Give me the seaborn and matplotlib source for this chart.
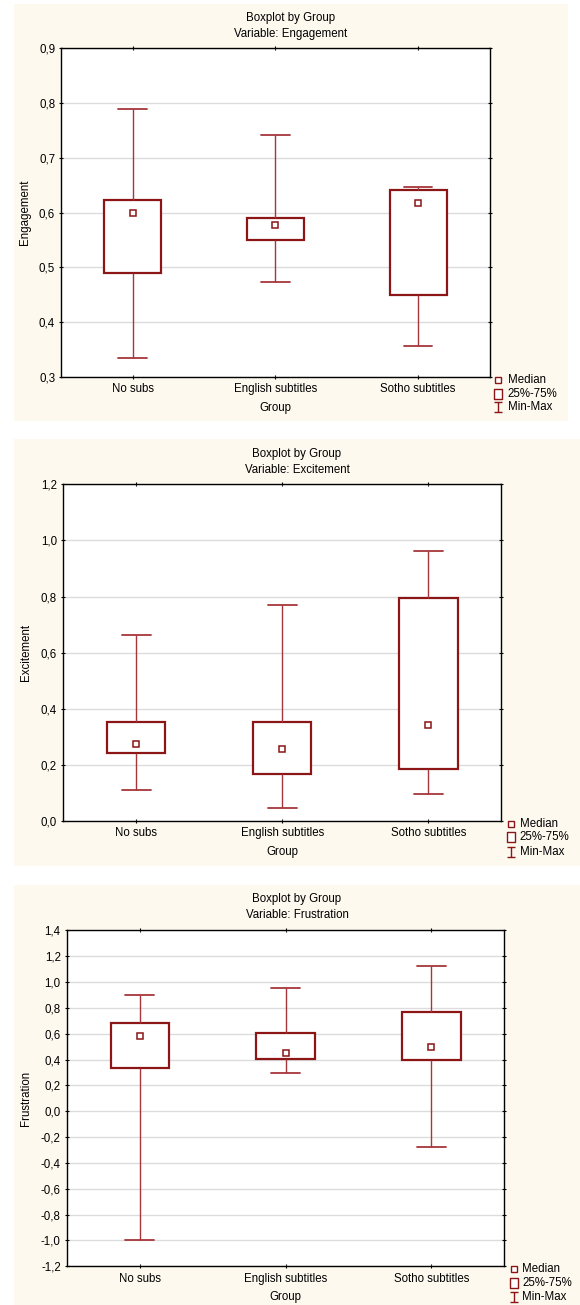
import numpy as np
import pandas as pd
import matplotlib
matplotlib.use("Agg")
import matplotlib.pyplot as plt
import seaborn as sns
from matplotlib.lines import Line2D
from matplotlib.patches import Rectangle
from matplotlib.path import Path
from matplotlib.ticker import FuncFormatter, MultipleLocator

sns.set_theme(style="white")
plt.rcParams['font.family'] = ['Liberation Sans', 'DejaVu Sans']

# 数据：三个组的箱线图摘要（最小、25%、中位数、75%、最大）
groups = ["No subs", "English subtitles", "Sotho subtitles"]

eng_min = [0.334, 0.473, 0.357]
eng_q1 = [0.489, 0.550, 0.450]
eng_med = [0.600, 0.577, 0.617]
eng_q3 = [0.623, 0.591, 0.642]
eng_max = [0.789, 0.741, 0.647]

exc_min = [0.109, 0.048, 0.097]
exc_q1 = [0.241, 0.168, 0.184]
exc_med = [0.273, 0.257, 0.341]
exc_q3 = [0.352, 0.354, 0.796]
exc_max = [0.664, 0.771, 0.964]

fru_min = [-1.000, 0.296, -0.279]
fru_q1 = [0.332, 0.404, 0.394]
fru_med = [0.585, 0.453, 0.500]
fru_q3 = [0.683, 0.608, 0.771]
fru_max = [0.900, 0.954, 1.127]

variables = ["Engagement", "Excitement", "Frustration"]
summaries = [
    (eng_min, eng_q1, eng_med, eng_q3, eng_max),
    (exc_min, exc_q1, exc_med, exc_q3, exc_max),
    (fru_min, fru_q1, fru_med, fru_q3, fru_max),
]
ylims = [(0.3, 0.9), (0.0, 1.2), (-1.2, 1.4)]
ysteps = [0.1, 0.2, 0.2]

RED = '#8c1515'
WHISK = '#a6363b'
CREAM = '#fdf9ef'
FS = 8.3
W, H = 580, 1305

# 像素布局 (左, 右, 上, 下)
axes_px = [(61.4, 489.5, 48.3, 377.0),
           (63.3, 501.3, 484.3, 821.0),
           (67.0, 504.3, 930.3, 1266.3)]
cream_px = [(14, 568, 4, 420.7),
            (14, 580, 439.3, 865.7),
            (14, 580, 885, 1305)]
title_y = [(18.3, 34.0), (454.0, 470.0), (899.0, 914.7)]
legend_px = [(498.3, 507.6, (380.0, 394.0, 407.0)),
             (510.5, 519.8, (824.0, 837.3, 851.7)),
             (513.5, 522.4, (1269.3, 1283.3, 1297.3))]

box_marker = Path([(-0.75, -1), (0.75, -1), (0.75, 1), (-0.75, 1), (-0.75, -1)],
                  [Path.MOVETO, Path.LINETO, Path.LINETO, Path.LINETO, Path.CLOSEPOLY])
minmax_marker = Path([(-0.75, -1), (0.75, -1), (0, -1), (0, 1), (-0.75, 1), (0.75, 1)],
                     [Path.MOVETO, Path.LINETO, Path.MOVETO, Path.LINETO, Path.MOVETO, Path.LINETO])


def fx(x):
    return x / W


def fy(y):
    return 1 - y / H


fig = plt.figure(figsize=(W / 100, H / 100), dpi=100)
fig.patch.set_facecolor('white')

for i, var in enumerate(variables):
    cl, cr, ct, cb = cream_px[i]
    fig.patches.append(Rectangle((fx(cl), fy(cb)), fx(cr - cl), (cb - ct) / H,
                                 transform=fig.transFigure, facecolor=CREAM,
                                 edgecolor='none', zorder=-5))

    l, r, t, b = axes_px[i]
    ax = fig.add_axes([fx(l), fy(b), fx(r - l), (b - t) / H])
    ax.set_facecolor('white')

    mins, q1s, meds, q3s, maxs = summaries[i]
    rows = []
    for g, a, q1, m, q3, z in zip(groups, mins, q1s, meds, q3s, maxs):
        for v in (a, q1, m, q3, z):
            rows.append({"Group": g, var: v})
    df = pd.DataFrame(rows)

    sns.boxplot(data=df, x="Group", y=var, order=groups, whis=(0, 100), width=0.4,
                color='white', linecolor=RED, linewidth=1.6, showfliers=False,
                medianprops={'visible': False},
                whiskerprops={'linewidth': 1.0, 'color': WHISK},
                capprops={'linewidth': 1.3, 'color': WHISK},
                ax=ax)
    sns.pointplot(data=df, x="Group", y=var, order=groups, estimator='median',
                  errorbar=None, linestyle='none', marker='s', markersize=4.5,
                  color=RED, markerfacecolor='white', markeredgewidth=1.1, ax=ax)

    ax.set_xlim(-0.5, 2.5)
    ax.set_ylim(*ylims[i])
    ax.yaxis.set_major_locator(MultipleLocator(ysteps[i]))
    ax.yaxis.set_major_formatter(FuncFormatter(lambda v, p: f"{v:.1f}".replace('.', ',')))
    ax.grid(axis='y', color='#dcdcdc', linewidth=1)
    ax.set_axisbelow(True)
    for s in ax.spines.values():
        s.set_color('black')
        s.set_linewidth(1.0)
    ax.tick_params(axis='both', which='major', direction='inout', length=3, width=0.8,
                   color='black', labelsize=FS, labelcolor='black', pad=3,
                   left=True, right=True, top=True, bottom=True)
    ax.set_xlabel("Group", fontsize=FS, color='black', labelpad=5)
    ax.set_ylabel(var, fontsize=FS, color='black', labelpad=6)

    cx = fx((cl + cr) / 2)
    fig.text(cx, fy(title_y[i][0]), "Boxplot by Group", ha='center', va='center',
             fontsize=FS, color='black')
    fig.text(cx, fy(title_y[i][1]), f"Variable: {var}", ha='center', va='center',
             fontsize=FS, color='black')

    mx, tx, ys = legend_px[i]
    entries = [("Median", 's', 4.3), ("25%-75%", box_marker, 7.2), ("Min-Max", minmax_marker, 7.2)]
    for (lab, mk, ms), y in zip(entries, ys):
        fig.add_artist(Line2D([fx(mx)], [fy(y)], transform=fig.transFigure, marker=mk,
                              markersize=ms, markerfacecolor='white', markeredgecolor=RED,
                              markeredgewidth=1.0, linestyle='none'))
        fig.text(fx(tx), fy(y), lab, ha='left', va='center', fontsize=FS, color='black')

fig.savefig("out.png", dpi=100, facecolor='white')
